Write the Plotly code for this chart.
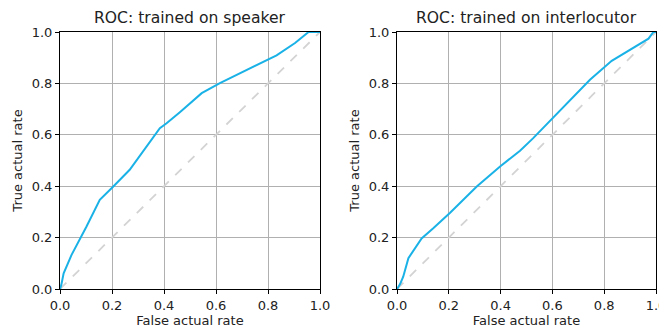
import plotly.graph_objects as go

# Data
speaker_fpr = [0.0, 0.005, 0.014, 0.044, 0.102, 0.153, 0.205, 0.268, 0.384, 0.41, 0.461, 0.545, 0.615, 0.718, 0.795, 0.833, 0.904, 0.956, 1.0]
speaker_tpr = [0.0, 0.016, 0.061, 0.132, 0.243, 0.347, 0.399, 0.464, 0.626, 0.645, 0.688, 0.762, 0.801, 0.853, 0.892, 0.909, 0.957, 1.0, 1.0]

interloc_fpr = [0.0, 0.012, 0.024, 0.044, 0.095, 0.140, 0.205, 0.308, 0.398, 0.475, 0.526, 0.597, 0.681, 0.745, 0.829, 0.945, 0.971, 0.99, 1.0]
interloc_tpr = [0.0, 0.019, 0.048, 0.120, 0.197, 0.236, 0.297, 0.399, 0.477, 0.538, 0.587, 0.661, 0.749, 0.814, 0.888, 0.957, 0.974, 1.0, 1.0]

diag = [0.0, 1.0]
ticks = [0.0, 0.2, 0.4, 0.6, 0.8, 1.0]
tick_text = ["0.0", "0.2", "0.4", "0.6", "0.8", "1.0"]
titles = ["ROC: trained on speaker", "ROC: trained on interlocutor"]

# page body has an 8px margin, so the figure is offset by (8, 8)
W, H = 659, 321
L, R, T, B = 52, 11, 24, 40
PW = W - L - R
font = "DejaVu Sans, Arial, sans-serif"
line_color = "#1ab2e6"

fig = go.Figure()
panels = [(speaker_fpr, speaker_tpr, "x", "y"), (interloc_fpr, interloc_tpr, "x2", "y2")]
for fx, fy, xa, ya in panels:
    fig.add_trace(go.Scatter(x=diag, y=diag, mode="lines", xaxis=xa, yaxis=ya,
                             line=dict(color="#d3d3d3", width=1.8, dash="dash"), showlegend=False))
    fig.add_trace(go.Scatter(x=fx, y=fy, mode="lines", xaxis=xa, yaxis=ya,
                             line=dict(color=line_color, width=2), showlegend=False))

xdoms = [[0, 260 / PW], [337 / PW, 1.0]]

axis_common = dict(range=[0, 1], tickvals=ticks, ticktext=tick_text, showgrid=True,
                   gridcolor="#b0b0b0", gridwidth=1, showline=True, linecolor="black",
                   linewidth=1, mirror=True, ticks="outside", ticklen=4, tickcolor="black",
                   zeroline=False, tickfont=dict(size=13, family=font, color="#222"),
                   fixedrange=True, automargin=False)

layout = dict(width=W, height=H, margin=dict(l=L, r=R, t=T, b=B, autoexpand=False),
              plot_bgcolor="white", paper_bgcolor="white",
              font=dict(family=font, color="#222"))
for i, (xn, yn) in enumerate([("xaxis", "yaxis"), ("xaxis2", "yaxis2")]):
    xa = dict(axis_common, domain=xdoms[i],
              title=dict(text="False actual rate", font=dict(size=13, family=font), standoff=2))
    ya = dict(axis_common, domain=[0, 1],
              title=dict(text="True actual rate", font=dict(size=13, family=font), standoff=6))
    if i == 1:
        xa["anchor"] = "y2"
        ya["anchor"] = "x2"
    layout[xn] = xa
    layout[yn] = ya

annotations = []
for i, t in enumerate(titles):
    cx = (xdoms[i][0] + xdoms[i][1]) / 2
    annotations.append(dict(text=t, x=cx, y=1.0, xref="paper", yref="paper",
                            xanchor="center", yanchor="bottom", yshift=3, showarrow=False,
                            font=dict(size=15.6, family=font, color="#222")))
layout["annotations"] = annotations
fig.update_layout(**layout)
fig.write_html("out.html")
